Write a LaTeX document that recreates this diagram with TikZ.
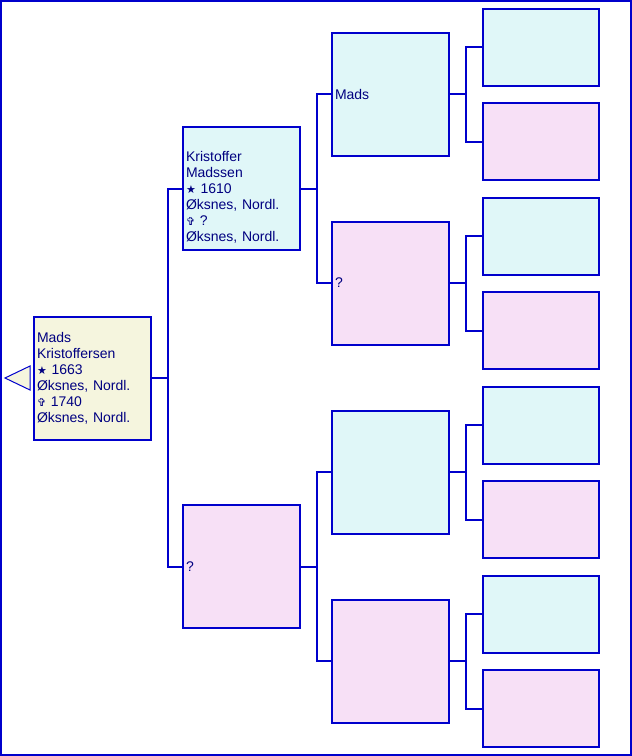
\documentclass[tikz,border=0pt]{standalone}
\usepackage{fontspec}
\setmainfont{Liberation Sans}
\newfontfamily\symfont{DejaVu Sans}
\usetikzlibrary{calc}
\definecolor{lineblue}{HTML}{0000CC}
\definecolor{textblue}{HTML}{000080}
\definecolor{malecyan}{HTML}{E0F7F8}
\definecolor{femalepink}{HTML}{F7E0F6}
\definecolor{rootbeige}{HTML}{F5F5DE}
\newcommand{\born}{{\symfont\fontsize{11}{16}\selectfont ★}}
\newcommand{\died}{{\symfont\fontsize{11}{16}\selectfont ✞}}
\tikzset{
    every node/.style={font=\fontsize{14}{16}\selectfont,text=textblue},
    person/.style={rectangle,draw=lineblue,line width=2pt,inner xsep=3.5pt,inner ysep=0pt,text width=110pt,align=left,minimum height=123pt},
    male/.style={person,fill=malecyan},
    female/.style={person,fill=femalepink},
    proband/.style={person,fill=rootbeige},
    leaf/.style={minimum height=77pt,text width=109pt},
    link/.style={draw=lineblue,line width=2pt}
}

\begin{document}
\begin{tikzpicture}[x=1pt,y=-1pt]
\useasboundingbox (0,0) rectangle (632,756);
\draw[lineblue,line width=2pt] (1,1) rectangle (631,755);

% proband and parents
\node[proband] (root) at (92,378) {Mads\\Kristoffersen\\\born\ 1663\\Øksnes, Nordl.\\\died\ 1740\\Øksnes, Nordl.};
\draw[lineblue,fill=rootbeige,line width=1pt] (30,366) -- (5,378) -- (30,390) -- cycle;
\node[male] (f) at (241,188.5) {\rule{0pt}{11pt}\\Kristoffer\\Madssen\\\born\ 1610\\Øksnes, Nordl.\\\died\ ?\\Øksnes, Nordl.};
\node[female] (m) at (241,566.5) {?};

% grandparents
\node[male] (ff) at (390,94) {Mads};
\node[female] (fm) at (390,283) {?};
\node[male] (mf) at (390,472) {};
\node[female] (mm) at (390,661) {};

% great-grandparents
\foreach \n/\s [count=\i from 0] in {fff/male,ffm/female,fmf/male,fmm/female,mff/male,mfm/female,mmf/male,mmm/female}
    \node[\s,leaf] (\n) at (540.5,{47+94.5*\i}) {};

% links
\foreach \p/\a/\b in {root/f/m,f/ff/fm,m/mf/mm,ff/fff/ffm,fm/fmf/fmm,mf/mff/mfm,mm/mmf/mmm}{
    \draw[link] (\p.east) -- ++(16,0) coordinate (j);
    \draw[link] (\a.west) -| (j) |- (\b.west);
}
\end{tikzpicture}
\end{document}
